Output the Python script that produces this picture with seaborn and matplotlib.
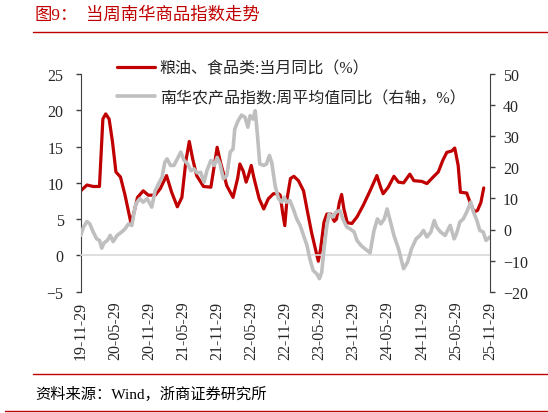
import numpy as np
import seaborn as sns
import matplotlib.pyplot as plt
from matplotlib.lines import Line2D

# x = months after 2019-11-29
red_month = [0.0, 1.1, 2.2, 3.3, 3.9, 4.4, 5.0, 5.6, 6.2, 7.0, 7.8, 8.8, 9.3, 10.0,
             11.0, 11.9, 13.1, 14.0, 15.1, 16.0, 17.0, 17.8, 18.5, 19.1, 19.7, 20.4,
             21.6, 22.9, 23.5, 24.0, 24.6, 25.7, 26.8, 27.6, 28.0, 28.6, 29.1, 29.5,
             30.0, 30.5, 31.4, 32.2, 33.0, 33.9, 34.8, 35.1, 35.5, 35.9, 36.3, 36.9,
             37.5, 38.3, 39.2, 39.9, 40.6, 41.4, 41.8, 42.2, 42.8, 43.3, 44.0, 44.6,
             45.0, 45.5, 45.9, 46.3, 46.9, 47.7, 48.6, 49.7, 50.9, 52.1, 52.8, 53.2,
             54.1, 55.1, 55.9, 56.8, 57.9, 58.6, 60.0, 60.9, 62.0, 62.9, 63.7, 64.4,
             65.3, 65.8, 66.4, 66.8, 67.9, 68.5, 69.2, 69.8, 70.4, 70.9]
red_val = [8.9, 9.7, 9.5, 9.5, 18.8, 19.5, 18.8, 15.6, 11.5, 10.8, 8.3, 4.6, 5.7, 8.0,
           8.9, 8.3, 8.3, 9.2, 11.0, 8.7, 6.7, 8.0, 13.0, 15.7, 13.3, 11.0,
           9.5, 9.4, 12.4, 14.9, 12.8, 9.6, 8.0, 10.6, 12.6, 11.6, 10.1, 11.0,
           12.4, 10.6, 7.8, 6.4, 7.8, 8.5, 8.5, 8.3, 6.0, 4.1, 7.8, 10.6,
           10.9, 10.3, 8.9, 6.0, 3.2, 0.5, -0.8, 0.9, 4.6, 5.7, 5.7, 4.7,
           5.0, 7.3, 8.4, 6.4, 4.5, 4.4, 5.3, 6.9, 8.9, 11.0, 9.3, 8.5,
           9.4, 10.9, 10.1, 10.0, 11.2, 10.3, 10.2, 9.9, 10.8, 11.5, 13.1, 14.2,
           14.4, 14.8, 12.4, 8.7, 8.6, 7.3, 6.0, 6.2, 7.3, 9.3]

gray_month = [0.0, 0.5, 1.1, 1.6, 2.2, 2.8, 3.3, 3.7, 4.1, 4.7, 5.2, 5.7, 6.4, 7.2,
              7.8, 8.4, 9.0, 9.4, 9.7, 10.4, 11.0, 11.7, 12.5, 13.1, 13.7, 14.3,
              14.8, 15.2, 15.8, 16.4, 17.0, 17.6, 18.2, 18.8, 19.4, 19.9, 20.5, 21.1,
              21.7, 22.2, 22.9, 23.5, 24.0, 24.5, 25.1, 25.7, 26.3, 26.8, 27.1, 27.7,
              28.3, 28.9, 29.4, 29.8, 30.3, 30.7, 31.1, 31.5, 32.2, 32.7, 33.2, 33.6,
              34.2, 34.8, 35.4, 35.8, 36.2, 36.8, 37.4, 38.0, 38.6, 39.2, 39.8, 40.3,
              40.9, 41.5, 42.0, 42.4, 42.8, 43.3, 43.7, 44.3, 44.9, 45.6, 46.1, 46.8,
              47.4, 48.1, 48.6, 49.3, 50.0, 50.9, 51.6, 52.2, 52.8, 53.4, 53.9, 54.5,
              55.1, 55.9, 56.8, 57.5, 58.2, 59.0, 59.7, 60.3, 60.9, 61.6, 62.2, 62.6,
              63.3, 64.1, 65.0, 65.7, 66.1, 66.7, 67.3, 67.9, 68.6, 69.1, 69.7, 70.2,
              70.8, 71.3, 72.0]
gray_val = [-1.9, 0.8, 2.6, 1.8, -0.8, -3.0, -3.5, -6.0, -4.3, -3.5, -1.9, -3.9, -1.9, -0.8,
            0.2, 1.8, 1.3, 5.6, 8.3, 9.9, 8.8, 9.9, 7.2, 12.5, 14.7, 16.8,
            21.6, 22.7, 20.6, 20.6, 22.7, 24.9, 22.2, 21.1, 18.9, 19.5, 18.2, 18.4,
            15.2, 18.9, 22.2, 20.6, 23.2, 21.1, 16.3, 17.3, 24.9, 25.9, 32.3, 35.0,
            36.8, 36.1, 32.9, 36.6, 35.5, 38.2, 30.2, 21.1, 20.6, 21.1, 23.8, 21.6,
            14.1, 9.9, 8.8, 10.4, 8.8, 9.3, 6.6, 3.4, 1.3, -1.9, -5.1, -9.4,
            -13.2, -14.2, -15.8, -13.7, -6.2, 1.3, 5.0, 4.0, 5.6, 6.1, 3.4, 0.8,
            0.2, -0.8, -3.5, -5.1, -6.2, -7.5, -0.3, 3.4, 1.8, 3.4, 6.6, 2.4,
            -1.9, -6.2, -12.6, -10.5, -6.2, -3.0, -1.9, -0.3, -2.4, -0.8, 2.9, 0.8,
            -0.8, -1.9, 1.3, -3.0, -1.4, 2.4, 3.4, 5.6, 8.8, 5.6, 2.9, -0.3,
            -0.8, -3.5, -2.4]

tick_month = list(range(0, 73, 6))
tick_labels = ["19-11-29", "20-05-29", "20-11-29", "21-05-29", "21-11-29", "22-05-29",
               "22-11-29", "23-05-29", "23-11-29", "24-05-29", "24-11-29", "25-05-29",
               "25-11-29"]

red_name = "粮油、食品类:当月同比（%）"
gray_name = "南华农产品指数:周平均值同比（右轴，%）"

RED = "#C00000"
GRAY = "#BFBFBF"
DARK = "#404040"
W, H = 548, 414

sns.set_style("white")
plt.rcParams["font.family"] = ["Liberation Serif", "Noto Sans CJK SC"]

fig = plt.figure(figsize=(W / 100, H / 100), dpi=100)
ax = fig.add_axes([80.7 / W, 1 - 292.7 / H, (490 - 80.7) / W, (292.7 - 75) / H])
ax2 = ax.twinx()

sns.lineplot(x=red_month, y=red_val, ax=ax, color=RED, lw=2.3,
             solid_joinstyle="round", solid_capstyle="round")
sns.lineplot(x=gray_month, y=gray_val, ax=ax2, color=GRAY, lw=2.6,
             solid_joinstyle="round", solid_capstyle="round")

ax.set_xlim(0, 72)
ax.set_ylim(-5, 25)
ax.set_yticks(range(-5, 26, 5))
ax2.set_ylim(-20, 50)
ax2.set_yticks(range(-20, 51, 10))
for a in (ax, ax2):
    a.set_xlabel("")
    a.set_ylabel("")

# spines
ax.spines["top"].set_visible(False)
ax.spines["right"].set_visible(False)
ax.spines["left"].set_color(DARK)
ax.spines["bottom"].set_position(("data", 0))
ax.spines["bottom"].set_color("#D9D9D9")
ax.spines["bottom"].set_linewidth(1.2)
for s in ("top", "bottom", "left"):
    ax2.spines[s].set_visible(False)
ax2.spines["right"].set_color(DARK)

ax.set_xticks(tick_month)
ax.tick_params(axis="x", labelbottom=False, direction="out", length=3,
               width=1, color="#D9D9D9")
ax.tick_params(axis="y", direction="out", length=3.3, width=1, color=DARK,
               pad=9, labelsize=11.5)
ax2.tick_params(axis="y", direction="out", length=3.3, width=1, color=DARK,
                pad=6, labelsize=11.5)

sec = ax.secondary_xaxis("bottom")
sec.set_xticks(tick_month, labels=tick_labels, rotation=90)
sec.tick_params(length=0, pad=6.5, labelsize=11.5)
sec.spines["bottom"].set_visible(False)

handles = [Line2D([], [], color=RED, lw=2.3), Line2D([], [], color=GRAY, lw=2.6)]
fig.legend(handles, [red_name, gray_name], loc="upper left",
           bbox_to_anchor=(116.7 / W, 1 - 61.5 / H), frameon=False, fontsize=11.5,
           handlelength=2.4, handletextpad=0.3, labelspacing=0.84,
           borderpad=0, borderaxespad=0)

# title and source
fig.text(34.9 / W, 1 - 15.7 / H, "图9：", color=RED, fontsize=12.5, va="center")
fig.text(86.5 / W, 1 - 15.7 / H, "当周南华商品指数走势", color=RED, fontsize=12.5,
         va="center")
fig.add_artist(Line2D([33 / W, 1], [1 - 33.1 / H] * 2, color=RED, lw=1.0))
fig.add_artist(Line2D([33 / W, 1], [1 - 374.8 / H] * 2, color=RED, lw=1.0))
fig.text(35 / W, 1 - 394 / H, "资料来源：Wind，浙商证券研究所", color="black",
         fontsize=11, va="center")
fig.add_artist(Line2D([5 / W, 1], [1 - 412.3 / H] * 2, color=RED, lw=1.0))

fig.savefig("out.png", dpi=100)
